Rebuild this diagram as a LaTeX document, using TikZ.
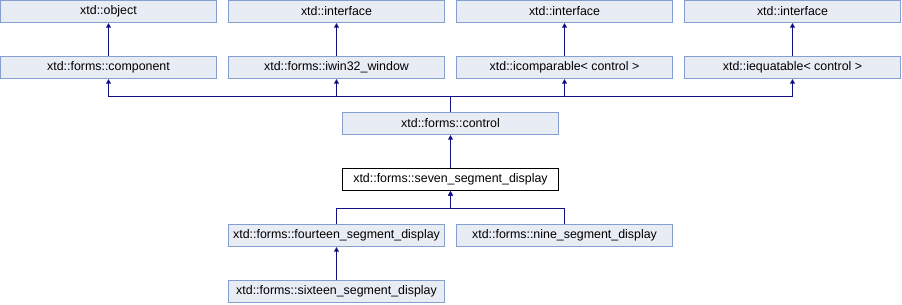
\documentclass[tikz,border=0pt]{standalone}
\usepackage{fontspec}
\setmainfont{Liberation Sans}
\usepackage{tikz}
\usetikzlibrary{arrows.meta}

\definecolor{clsfill}{RGB}{232,236,244}
\definecolor{clsdraw}{RGB}{132,158,208}
\definecolor{inhline}{RGB}{16,16,128}

\begin{document}
\begin{tikzpicture}[x=0.75pt, y=-0.75pt,
	every node/.style={font=\fontsize{9.3pt}{11pt}\selectfont, inner sep=0pt},
	cls/.style={draw=clsdraw, fill=clsfill, line width=0.75pt, minimum width=162pt, minimum height=16.6pt},
	cur/.style={cls, draw=black, fill=white},
	inh/.style={draw=inhline, line width=0.75pt, {Triangle[length=3.4pt, width=3.6pt]}-}]
	\useasboundingbox (0,0) rectangle (902,304);
	% top row
	\node[cls] (obj) at (108.5,11.5) {xtd::object};
	\node[cls] (if1) at (336.5,11.5) {xtd::interface};
	\node[cls] (if2) at (564.5,11.5) {xtd::interface};
	\node[cls] (if3) at (792.5,11.5) {xtd::interface};
	% second row
	\node[cls] (comp) at (108.5,67.5) {xtd::forms::component};
	\node[cls] (win) at (336.5,67.5) {xtd::forms::iwin32\_window};
	\node[cls] (cmp) at (564.5,67.5) {xtd::icomparable< control >};
	\node[cls] (equ) at (792.5,67.5) {xtd::iequatable< control >};
	\node[cls] (ctrl) at (450.5,123.5) {xtd::forms::control};
	\node[cur] (seven) at (450.5,179.5) {xtd::forms::seven\_segment\_display};
	\node[cls] (fourteen) at (336.5,235.5) {xtd::forms::fourteen\_segment\_display};
	\node[cls] (nine) at (564.5,235.5) {xtd::forms::nine\_segment\_display};
	\node[cls] (sixteen) at (336.5,291.5) {xtd::forms::sixteen\_segment\_display};
	\coordinate (busA) at (450.5,96.5);
	\coordinate (busB) at (450.5,208.5);

	\draw[inh] (obj) -- (comp);
	\draw[inh] (if1) -- (win);
	\draw[inh] (if2) -- (cmp);
	\draw[inh] (if3) -- (equ);
	\foreach \p in {comp,win,cmp,equ}
		\draw[inh] (\p.south) -- (\p.south |- busA) -| (ctrl.north);
	\draw[inh] (ctrl) -- (seven);
	\foreach \c in {fourteen,nine}
		\draw[inh] (seven.south) |- (busB) -| (\c.north);
	\draw[inh] (fourteen) -- (sixteen);
\end{tikzpicture}
\end{document}
